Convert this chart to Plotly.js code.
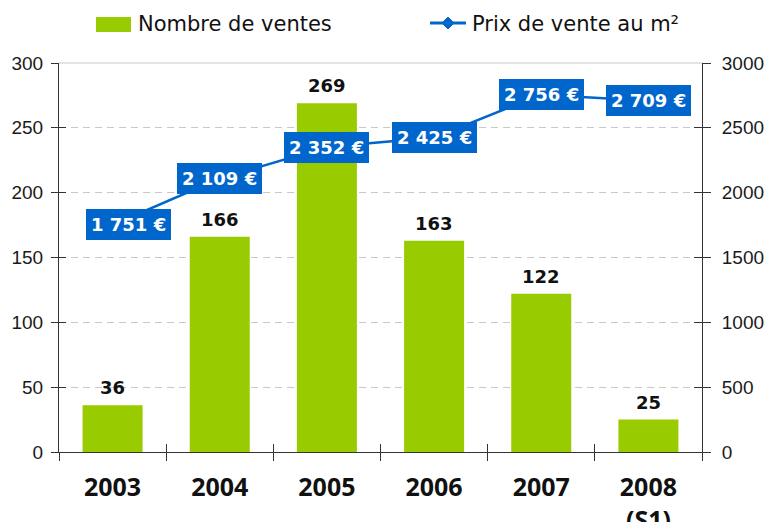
<!DOCTYPE html>
<html>
<head>
<meta charset="utf-8">
<script src="https://cdn.plot.ly/plotly-3.0.1.min.js"></script>
<style>
  html, body { margin: 0; padding: 0; background: #ffffff; }
  #chart { width: 765px; height: 522px; }
</style>
</head>
<body>
<div id="chart"></div>
<script>
// ---- data ----
const categories = ['2003', '2004', '2005', '2006', '2007', '2008<br>(S1)'];
const ventes = [36, 166, 269, 163, 122, 25];
const prix = [1751, 2109, 2352, 2425, 2756, 2709];
const prixLabels = ['1 751 €', '2 109 €', '2 352 €', '2 425 €', '2 756 €', '2 709 €'];
const leftTicks = [0, 50, 100, 150, 200, 250, 300];
const rightTicks = [0, 500, 1000, 1500, 2000, 2500, 3000];

const GREEN = '#99CC00';
const BLUE = '#0066CC';
const AXIS = '#333333';

// plot-area geometry (pixels)
const L = 59, R = 702, T = 63, B = 452.5;
const W = 765, H = 522;
const px2x = px => (px - L) / (R - L);
const py2y = py => (B - py) / (B - T);

const traces = [
  {
    type: 'bar', name: 'Nombre de ventes',
    x: categories, y: ventes,
    marker: { color: GREEN },
    xaxis: 'x', yaxis: 'y',
    hoverinfo: 'x+y'
  },
  {
    type: 'scatter', mode: 'lines+markers', name: 'Prix de vente au m²',
    x: categories, y: prix,
    line: { color: BLUE, width: 2.5 },
    marker: { symbol: 'diamond', size: 10, color: BLUE },
    xaxis: 'x', yaxis: 'y2'
  }
];

const annotations = [];
// bar value labels (x given as category index)
ventes.forEach((v, i) => {
  annotations.push({
    x: i, y: v, xref: 'x', yref: 'y',
    text: String(v), showarrow: false,
    yanchor: 'bottom', yshift: 5,
    font: { family: 'DejaVu Sans', size: 18, color: '#111111', weight: 'bold' }
  });
});
// price labels (blue boxes)
prix.forEach((v, i) => {
  annotations.push({
    x: i, y: v, xref: 'x', yref: 'y2',
    text: '<b>' + prixLabels[i] + '</b>', showarrow: false,
    xanchor: 'center', yanchor: 'middle',
    xshift: i === 0 ? 16 : 0,
    bgcolor: BLUE, bordercolor: BLUE, borderwidth: 1, borderpad: 4,
    font: { family: 'DejaVu Sans', size: 18, color: '#ffffff' }
  });
});
// custom legend texts
annotations.push({
  xref: 'paper', yref: 'paper', x: px2x(136), y: py2y(24), xanchor: 'left', yanchor: 'middle',
  text: 'Nombre de ventes', showarrow: false,
  font: { family: 'DejaVu Sans', size: 21, color: '#111111' }
});
annotations.push({
  xref: 'paper', yref: 'paper', x: px2x(470), y: py2y(24), xanchor: 'left', yanchor: 'middle',
  text: 'Prix de vente au m²', showarrow: false,
  font: { family: 'DejaVu Sans', size: 21, color: '#111111' }
});

const dx = 6, dy = 6, lx = 448, ly = 23;
const shapes = [
  // legend swatch
  { type: 'rect', xref: 'paper', yref: 'paper', x0: px2x(96), x1: px2x(131), y0: py2y(32), y1: py2y(17),
    fillcolor: GREEN, line: { width: 0 } },
  // legend line
  { type: 'line', xref: 'paper', yref: 'paper', x0: px2x(430), x1: px2x(466), y0: py2y(ly), y1: py2y(ly),
    line: { color: BLUE, width: 3 } },
  // legend diamond
  { type: 'path', xref: 'paper', yref: 'paper',
    path: `M ${px2x(lx - dx)},${py2y(ly)} L ${px2x(lx)},${py2y(ly - dy)} L ${px2x(lx + dx)},${py2y(ly)} L ${px2x(lx)},${py2y(ly + dy)} Z`,
    fillcolor: BLUE, line: { color: BLUE, width: 1 } },
  // top solid light line
  { type: 'line', xref: 'paper', yref: 'paper', x0: 0, x1: 1, y0: 1, y1: 1,
    line: { color: '#C8C8C8', width: 1 }, layer: 'below' }
];

const tickFont = { family: 'Liberation Sans', size: 19, color: '#1a1a1a' };

const layout = {
  width: W, height: H,
  margin: { l: L, r: W - R, t: T, b: H - B, pad: 0 },
  paper_bgcolor: '#ffffff', plot_bgcolor: '#ffffff',
  showlegend: false,
  bargap: 0.44,
  xaxis: {
    type: 'category', range: [-0.5, 5.5],
    showline: true, linecolor: AXIS, linewidth: 1,
    ticks: 'outside', tickson: 'boundaries', ticklen: 8, tickcolor: AXIS, tickwidth: 1,
    showgrid: false, zeroline: false,
    tickfont: { family: 'Open Sans', size: 25, color: '#111111', weight: 'bold' },
    ticklabelstandoff: 13,
    fixedrange: true
  },
  xaxis2: {
    type: 'category', range: [-0.5, 5.5], overlaying: 'x', anchor: 'y',
    showline: false, ticks: 'inside', tickson: 'boundaries', ticklen: 8, tickcolor: AXIS, tickwidth: 1,
    showticklabels: false, showgrid: false, zeroline: false, matches: 'x'
  },
  yaxis: {
    range: [0, 300], tickvals: leftTicks,
    showline: true, linecolor: AXIS, linewidth: 1,
    ticks: 'outside', ticklen: 7, tickcolor: AXIS, tickwidth: 1,
    showgrid: true, gridcolor: '#C8C8C8', gridwidth: 1, griddash: '7px,5px',
    zeroline: false, tickfont: tickFont, ticklabelstandoff: 4,
    fixedrange: true
  },
  yaxis3: {
    range: [0, 300], overlaying: 'y', side: 'left', anchor: 'x',
    tickvals: leftTicks, ticks: 'inside', ticklen: 7, tickcolor: AXIS, tickwidth: 1,
    showticklabels: false, showgrid: false, zeroline: false, showline: false
  },
  yaxis2: {
    range: [0, 3000], tickvals: rightTicks, overlaying: 'y', side: 'right', anchor: 'x',
    showline: true, linecolor: AXIS, linewidth: 1,
    ticks: 'outside', ticklen: 8, tickcolor: AXIS, tickwidth: 1,
    showgrid: false, zeroline: false, tickfont: tickFont, ticklabelstandoff: 7,
    fixedrange: true
  },
  yaxis4: {
    range: [0, 3000], overlaying: 'y', side: 'right', anchor: 'x',
    tickvals: rightTicks, ticks: 'inside', ticklen: 8, tickcolor: AXIS, tickwidth: 1,
    showticklabels: false, showgrid: false, zeroline: false, showline: false
  },
  annotations: annotations,
  shapes: shapes
};

// invisible helper traces so the overlay tick axes are drawn
traces.push({ type: 'scatter', x: [categories[0]], y: [0], xaxis: 'x2', yaxis: 'y3', mode: 'markers', marker: { opacity: 0 }, hoverinfo: 'skip', showlegend: false });
traces.push({ type: 'scatter', x: [categories[0]], y: [0], xaxis: 'x2', yaxis: 'y4', mode: 'markers', marker: { opacity: 0 }, hoverinfo: 'skip', showlegend: false });

Plotly.newPlot('chart', traces, layout, { displayModeBar: false, staticPlot: true });
</script>
</body>
</html>
